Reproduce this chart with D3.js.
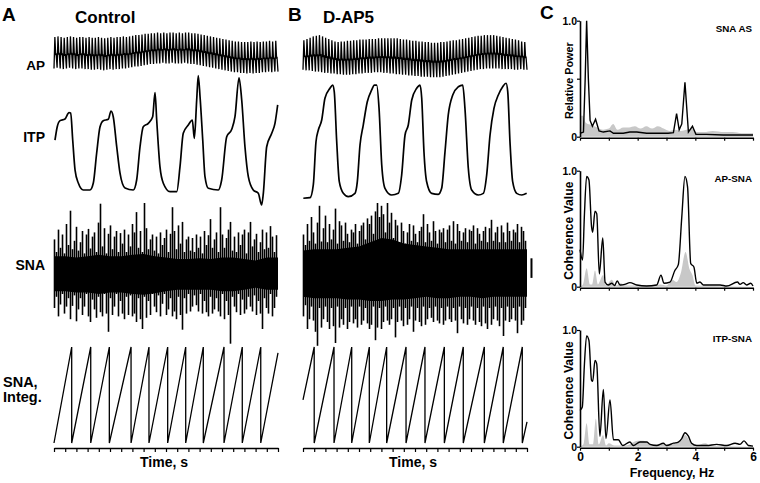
<!DOCTYPE html>
<html><head><meta charset="utf-8">
<script src="https://cdn.jsdelivr.net/npm/d3@7"></script>
<style>
body{margin:0;background:#fff}
svg{display:block}
text{font-family:"Liberation Sans",Arial,Helvetica,sans-serif;font-weight:bold;fill:#000}
</style>
</head><body>
<svg id="fig" width="760" height="483"></svg>
<script>
// ---------------- DATA ----------------
const panelTitles = ["Control", "D-AP5"];
const rowLabels = ["AP", "ITP", "SNA"];
const timeTicks = d3.range(0, 21); // seconds 0..20

// Arterial pressure, per beat (mmHg)
const apSysA = [122,123,122,121,122,123,122,121,122,122,121,122,
                121,121,122,121,120,121,122,121,122,122,123,122,
                123,124,125,125,126,127,127,128,128,129,128,129,
                128,129,129,128,129,128,129,129,128,128,127,126,
                125,124,123,122,121,120,119,118,117,116,115,115,
                114,114,114,115,114,115,114,115,115,116,115,116];
const apDiaA = [72,73,72,71,72,73,72,71,72,72,71,71,
                70,70,71,70,69,70,71,70,71,71,72,72,
                73,74,75,75,76,77,78,79,79,80,80,81,
                80,80,81,80,80,80,81,80,79,79,78,77,
                76,75,74,73,72,71,70,69,68,67,66,66,
                65,65,64,65,64,65,65,66,66,67,66,67];
const apSysB = [117,119,121,123,124,125,123,121,119,117,115,114,
                115,115,116,116,117,117,118,118,118,119,119,119,
                120,120,120,120,120,120,120,119,118,118,117,116,
                116,115,115,114,114,113,113,113,114,114,115,116,
                117,117,118,119,120,121,122,123,124,124,125,125,
                125,125,124,123,122,121,120,119,118,117,115,114];
const apDiaB = [70,69,69,68,67,67,66,65,65,64,64,63,
                63,62,62,62,63,63,64,64,65,65,65,66,
                66,66,65,65,64,64,63,63,62,62,61,61,
                60,60,59,59,59,58,58,58,58,59,60,61,
                62,63,64,65,66,67,68,69,70,71,71,72,
                72,72,72,72,71,71,71,71,70,70,71,70];

// Intrathoracic pressure [time s, value]
const itpA = [[0.09,4.64],[0.29,5.83],[0.54,6.37],[0.98,6.52],[1.34,7.08],[1.49,7.05],[1.67,4.64],[1.88,1.96],[2.17,0.8],[2.62,0.18],[3.21,0.18],[3.51,0.8],[3.81,3.48],[4.11,5.83],[4.4,6.37],[4.85,6.49],[5.09,7.23],[5.29,6.72],[5.6,4.04],[5.89,1.7],[6.34,0.36],[7.08,0.18],[7.38,1.07],[7.68,4.04],[7.97,5.83],[8.42,6.13],[8.81,6.72],[9.02,8.87],[9.17,6.43],[9.46,2.26],[9.76,0.78],[10.36,0.03],[10.96,0.03],[11.25,2.26],[11.54,5.24],[11.99,5.98],[12.35,6.43],[12.53,4.79],[12.74,8.21],[12.88,10.4],[13.04,8.51],[13.28,4.64],[13.48,1.37],[13.78,0.33],[14.67,0.18],[14.97,1.07],[15.42,4.94],[15.87,5.6],[16.16,6.72],[16.52,10.2],[16.76,8.21],[17.05,4.04],[17.35,1.37],[17.79,0.18],[18.24,-0.12],[18.54,-1.16],[18.69,-0.12],[18.99,4.04],[19.44,5.24],[19.73,6.13],[19.97,7.77]];
const itpB = [[0.03,-0.56],[0.63,-0.51],[0.92,0.63],[1.16,4.49],[1.37,5.54],[1.67,6.43],[1.96,8.37],[2.41,9.26],[2.65,9.55],[2.79,8.96],[3.01,4.49],[3.24,0.92],[3.6,-0.12],[4.04,-0.42],[4.64,-0.12],[4.85,0.92],[5.09,4.2],[5.38,5.98],[5.74,8.06],[6.13,9.11],[6.37,9.55],[6.58,9.55],[6.79,7.47],[7.03,2.41],[7.32,0.33],[7.92,-0.27],[8.51,-0.12],[8.81,1.52],[9.11,5.09],[9.4,5.98],[9.71,8.21],[10.15,9.26],[10.45,9.55],[10.6,8.37],[10.8,3.6],[11.04,0.92],[11.49,-0.12],[12.08,-0.21],[12.38,0.33],[12.68,3.6],[12.97,6.88],[13.37,8.66],[13.87,9.4],[14.26,9.55],[14.46,7.47],[14.76,2.12],[15.06,0.18],[15.65,-0.27],[16.1,-0.12],[16.4,1.52],[16.7,5.09],[17.05,7.47],[17.44,8.66],[17.83,9.4],[18.13,9.71],[18.28,8.96],[18.48,4.49],[18.72,0.92],[19.08,-0.12],[19.53,-0.27],[19.97,-0.12]];

// Sympathetic nerve activity: max / min excursion per sample (% of max)
const snaUpA = [48,30,62,36,55,28,70,40,89,34, 46,66,32,44,60,28,55,63,35,52,
                58,30,72,99,38,64,28,56,68,34, 52,60,30,57,42,62,30,55,38,70,
                58,87,36,60,30,100,64,34,48,55, 32,52,28,58,40,50,62,30,56,94,
                60,34,68,42,73,30,48,52,32,50, 30,55,36,52,28,60,40,54,77,36,
                48,58,30,94,55,36,50,62,73,32, 52,30,58,40,55,62,28,58,73,38,
                48,56,30,44,62,34,58,36,67,52, 30,54];
const snaDnA = [50,34,62,45,30,58,48,36,66,47, 32,69,52,36,60,48,30,62,70,38,
                52,64,34,56,62,30,58,84,36,60, 48,30,62,40,58,66,34,60,32,62,
                58,70,36,66,80,34,64,40,60,30, 48,56,32,62,44,30,60,52,36,62,
                55,66,34,60,81,36,58,30,55,48, 32,46,55,30,58,40,56,62,34,58,
                52,36,55,62,30,66,40,60,101,34, 48,56,30,60,38,58,52,34,48,55,
                32,60,40,58,80,36,50,58,30,62, 50,34];
const snaUpB = [55,40,70,46,80,58,42,72,96,45, 64,82,44,70,48,62,92,42,74,68,
                46,72,56,44,62,58,70,42,60,68, 72,48,78,70,82,56,88,100,80,96,
                84,58,100,72,86,50,76,68,44,72, 60,42,58,70,46,68,56,44,60,66,
                84,44,70,58,46,74,60,42,62,58, 64,44,62,68,46,74,42,70,60,46,
                58,64,44,62,60,68,42,64,56,46, 60,66,44,64,76,46,58,66,44,68,
                58,44,72,60,46,62,58,70,44,66, 60,46];
const snaDnB = [62,46,80,66,48,68,84,104,50,78, 66,48,70,80,50,76,100,48,78,66,
                74,50,80,70,48,72,66,78,48,74, 68,50,72,80,74,48,96,78,50,80,
                70,48,68,74,66,50,92,70,48,68, 76,50,74,66,48,84,68,50,70,76,
                48,74,66,50,64,70,48,68,72,50, 74,68,48,66,70,50,68,86,48,66,
                72,50,74,66,48,68,74,50,70,76, 48,72,80,50,74,66,48,68,76,50,
                90,68,48,70,66,50,68,86,48,74, 68,50];
// Dense core envelope, one value per second
const snaCoreTopA = [24,24,22,24,26,24,24,26,27,24,22,20,20,21,20,22,22,20,18,22,22];
const snaCoreBotA = [26,26,28,28,30,28,28,30,31,29,26,24,24,24,24,26,26,24,21,24,24];
const snaCoreTopB = [32,34,34,34,36,38,44,50,48,42,40,38,36,34,34,34,34,34,34,34,34];
const snaCoreBotB = [34,36,36,36,38,38,40,40,38,38,36,34,36,36,34,34,36,34,34,34,34];
const snaScaleBar = [-7, 21];

// Integrated SNA: reset times (s), start and end levels (fraction of threshold)
const integResetA = [1.58,3.28,4.94,6.88,8.48,10.15,11.76,13.33,15.18,16.81,18.46];
const integStartA = 0.0, integEndA = 0.94;
const integResetB = [1.0,2.77,4.35,5.92,7.47,9.2,10.89,12.62,14.31,16.19,17.88,19.58];
const integStartB = 0.45, integEndB = 0.22;

// Panel C spectra [frequency Hz, value]
const snaAS = [[0,0.03],[0.12,0.04],[0.18,0.5],[0.23,1.0],[0.29,0.5],[0.35,0.14],[0.43,0.09],[0.54,0.15],[0.66,0.05],[0.81,0.04],[1.04,0.05],[1.16,0.03],[1.5,0.03],[1.73,0.04],[1.97,0.04],[2.31,0.03],[2.66,0.03],[3.06,0.03],[3.24,0.035],[3.35,0.2],[3.44,0.06],[3.53,0.11],[3.64,0.47],[3.76,0.04],[3.9,0.09],[4.02,0.02],[4.39,0.02],[4.97,0.015],[5.55,0.015],[6.0,0.015]];
const snaASgrey = [[0,0.18],[0.1,0.18],[0.2,0.12],[0.4,0.1],[0.6,0.08],[0.8,0.06],[1.0,0.07],[1.15,0.11],[1.3,0.06],[1.5,0.08],[1.7,0.08],[1.9,0.09],[2.1,0.07],[2.3,0.09],[2.5,0.07],[2.7,0.09],[2.9,0.07],[3.1,0.05],[3.3,0.06],[3.5,0.05],[3.7,0.06],[3.9,0.07],[4.0,0.04],[4.3,0.04],[4.6,0.05],[5.0,0.04],[5.3,0.04],[5.6,0.03],[6.0,0.03]];
const apSna = [[0,0.32],[0.09,0.23],[0.15,0.6],[0.23,0.95],[0.31,0.92],[0.4,0.52],[0.44,0.47],[0.52,0.65],[0.58,0.63],[0.67,0.11],[0.79,0.42],[0.87,0.04],[0.98,0.015],[1.1,0.03],[1.2,0.01],[1.29,0.05],[1.39,0.015],[1.55,0.02],[1.73,0.035],[1.97,0.015],[2.31,0.006],[2.66,0.015],[2.81,0.1],[2.91,0.03],[3.12,0.04],[3.29,0.14],[3.41,0.19],[3.53,0.6],[3.64,0.95],[3.73,0.86],[3.84,0.2],[3.95,0.17],[4.05,0.03],[4.16,0.04],[4.28,0.015],[4.51,0.015],[4.86,0.015],[5.09,0.006],[5.46,0.04],[5.55,0.02],[5.66,0.035],[5.78,0.015],[5.92,0.03],[6.0,0.006]];
const apSnaGrey = [[0,0],[0.1,0.02],[0.23,0.16],[0.35,0.02],[0.42,0.02],[0.52,0.14],[0.62,0.02],[0.8,0.1],[0.9,0.01],[1.1,0.06],[1.25,0.01],[1.4,0.03],[1.6,0.01],[2.0,0.01],[2.8,0.02],[3.0,0.01],[3.2,0.06],[3.35,0.04],[3.5,0.12],[3.66,0.3],[3.8,0.15],[3.9,0.1],[4.0,0.01],[6.0,0]];
const itpSna = [[0,0.31],[0.08,0.34],[0.15,0.69],[0.23,0.95],[0.31,0.91],[0.4,0.57],[0.44,0.56],[0.52,0.74],[0.58,0.71],[0.69,0.09],[0.81,0.49],[0.9,0.07],[1.04,0.4],[1.16,0.06],[1.33,0.06],[1.48,0.01],[1.73,0.04],[1.85,0.01],[2.08,0.04],[2.31,0.04],[2.43,0.02],[2.66,0.01],[2.89,0.03],[3.0,0.01],[3.24,0.03],[3.41,0.04],[3.53,0.07],[3.64,0.12],[3.76,0.09],[3.87,0.03],[4.05,0.01],[4.39,0.01],[4.74,0.02],[5.09,0.01],[5.38,0.03],[5.55,0.02],[5.69,0.05],[5.84,0.01],[6.0,0.005]];
const itpSnaGrey = [[0,0],[0.12,0.02],[0.23,0.2],[0.33,0.02],[0.45,0.02],[0.55,0.24],[0.65,0.02],[0.8,0.1],[0.9,0.01],[1.0,0.03],[1.2,0.01],[1.6,0.01],[2.0,0.05],[2.2,0.05],[2.4,0.02],[3.0,0.02],[3.5,0.05],[3.65,0.1],[3.8,0.05],[4.0,0.01],[4.35,0.03],[4.5,0.01],[6.0,0]];
const freqTicks = [0,1,2,3,4,5,6];
const freqLabels = ["0","","2","","4","","6"];

// ---------------- DRAWING ----------------
const svg = d3.select("#fig");
const FONT = '"Liberation Sans",Arial,Helvetica,sans-serif';

const apY = d3.scaleLinear().domain([60,130]).range([76,32]);
const itpY = d3.scaleLinear().domain([0,10]).range([192,80]);
const snaY = d3.scaleLinear().domain([-100,100]).range([343,203]);
const integY = d3.scaleLinear().domain([0,1]).range([443,347]);

const panels = [
  {x0:54, x1:278, title:panelTitles[0], sys:apSysA, dia:apDiaA, itp:itpA,
   up:snaUpA, dn:snaDnA, cTop:snaCoreTopA, cBot:snaCoreBotA,
   resets:integResetA, iStart:integStartA, iEnd:integEndA},
  {x0:303, x1:527, title:panelTitles[1], sys:apSysB, dia:apDiaB, itp:itpB,
   up:snaUpB, dn:snaDnB, cTop:snaCoreTopB, cBot:snaCoreBotB,
   resets:integResetB, iStart:integStartB, iEnd:integEndB}
];

panels.forEach((p, k) => {
  const x = d3.scaleLinear().domain([0,20]).range([p.x0, p.x1]);
  const g = svg.append("g");

  // AP
  const n = p.sys.length, T = 20 / n, apPts = [];
  for (let i = 0; i < n; i++) {
    const t0 = i * T, pp = p.sys[i] - p.dia[i];
    apPts.push([t0, p.dia[i]]);
    apPts.push([t0 + 0.28 * T, p.sys[i]]);
    apPts.push([t0 + 0.55 * T, p.dia[i] + 0.42 * pp]);
    apPts.push([t0 + 0.68 * T, p.dia[i] + 0.48 * pp]);
  }
  apPts.push([20, p.dia[n - 1]]);
  g.append("path").attr("d", d3.line().x(d => x(d[0])).y(d => apY(d[1]))(apPts))
    .attr("fill", "none").attr("stroke", "#000").attr("stroke-width", 1.3);

  // ITP
  g.append("path").attr("d", d3.line().curve(d3.curveMonotoneX).x(d => x(d[0])).y(d => itpY(d[1]))(p.itp))
    .attr("fill", "none").attr("stroke", "#000").attr("stroke-width", 1.7);

  // SNA core
  g.append("path").attr("d", d3.area().x((d, i) => x(i)).y0((d, i) => snaY(-p.cBot[i])).y1(d => snaY(d))(p.cTop))
    .attr("fill", "#000");
  // SNA spikes: min/max vertical strokes per sample
  const m = p.up.length, dt = 20 / m;
  g.append("g").selectAll("line").data(p.up).join("line")
    .attr("x1", (d, i) => x(i * dt) + 0.5).attr("x2", (d, i) => x(i * dt) + 0.5)
    .attr("y1", d => snaY(d)).attr("y2", (d, i) => snaY(-p.dn[i]))
    .attr("stroke", "#000").attr("stroke-width", 1.6);

  // integrated SNA
  const iPts = [[0, p.iStart]];
  p.resets.forEach(r => { iPts.push([r, 1]); iPts.push([r, 0]); });
  iPts.push([20, p.iEnd]);
  g.append("path").attr("d", d3.line().x(d => x(d[0])).y(d => integY(d[1]))(iPts))
    .attr("fill", "none").attr("stroke", "#000").attr("stroke-width", 1.3);

  // time axis
  const ax = g.append("g").attr("transform", "translate(0,448)")
    .call(d3.axisBottom(x).tickValues(timeTicks).tickSize(4).tickSizeOuter(0).tickFormat(""));
  ax.select(".domain").attr("stroke-width", 1.6);
  ax.selectAll(".tick line").attr("stroke-width", 1.2);
  g.append("text").attr("x", (p.x0 + p.x1) / 2 - 2).attr("y", 467).attr("text-anchor", "middle")
    .attr("font-size", 14).text("Time, s");

  // titles
  g.append("text").attr("x", k === 0 ? 75 : 323).attr("y", 23).attr("font-size", 17).text(p.title);

  if (k === 1) {
    g.append("line").attr("x1", x(20.4)).attr("x2", x(20.4))
      .attr("y1", snaY(snaScaleBar[0])).attr("y2", snaY(snaScaleBar[1]))
      .attr("stroke", "#000").attr("stroke-width", 2);
  }
});

// panel letters
[["A", 2, 21], ["B", 288, 21], ["C", 540, 19]].forEach(([t, x, y]) =>
  svg.append("text").attr("x", x).attr("y", y).attr("font-size", 19).text(t));

// row labels
svg.append("text").attr("x", 45).attr("y", 70).attr("text-anchor", "end").attr("font-size", 13.5).text(rowLabels[0]);
svg.append("text").attr("x", 45).attr("y", 142).attr("text-anchor", "end").attr("font-size", 14).text(rowLabels[1]);
svg.append("text").attr("x", 45).attr("y", 270).attr("text-anchor", "end").attr("font-size", 14).text(rowLabels[2]);
svg.append("text").attr("x", 3).attr("y", 387).attr("font-size", 14.5).text("SNA,");
svg.append("text").attr("x", 3).attr("y", 402).attr("font-size", 14.5).text("Integ.");

// ---------------- Panel C ----------------
const fx = d3.scaleLinear().domain([0,6]).range([580,753]);
const cPanels = [
  {y0:136.7, y1:20.7, line:snaAS, grey:snaASgrey, title:"SNA AS", ylab:"Relative Power", ylabSize:10.8, curve:d3.curveLinear, labels:false},
  {y0:286.7, y1:170.7, line:apSna, grey:apSnaGrey, title:"AP-SNA", ylab:"Coherence Value", ylabSize:12.2, curve:d3.curveMonotoneX, labels:false},
  {y0:446.7, y1:330, line:itpSna, grey:itpSnaGrey, title:"ITP-SNA", ylab:"Coherence Value", ylabSize:12.2, curve:d3.curveMonotoneX, labels:true}
];
cPanels.forEach((c, k) => {
  const y = d3.scaleLinear().domain([0,1]).range([c.y0, c.y1]);
  const g = svg.append("g");
  g.append("path").attr("d", d3.area().curve(d3.curveMonotoneX).x(d => fx(d[0])).y0(y(0)).y1(d => y(d[1]))(c.grey))
    .attr("fill", "#c8c8c8");
  g.append("path").attr("d", d3.line().curve(c.curve).x(d => fx(d[0])).y(d => y(d[1]))(c.line))
    .attr("fill", "none").attr("stroke", "#000").attr("stroke-width", 1.4);

  const yax = g.append("g").attr("transform", "translate(580,0)")
    .call(d3.axisLeft(y).tickValues(k === 0 ? [0, 0.5, 1] : [0, 1]).tickSize(3).tickSizeOuter(0)
      .tickFormat(d => d === 0 ? "0" : d === 1 ? "1.0" : ""));
  const xax = g.append("g").attr("transform", `translate(0,${c.y0 + 1})`)
    .call(d3.axisBottom(fx).tickValues(freqTicks).tickSize(3).tickSizeOuter(0)
      .tickFormat((d, i) => c.labels ? freqLabels[i] : ""));
  [yax, xax].forEach(a => {
    a.select(".domain").attr("stroke-width", 1.6);
    a.selectAll(".tick line").attr("stroke-width", 1.2);
    a.selectAll("text").attr("font-family", FONT).attr("font-weight", "bold").attr("fill", "#000");
  });
  yax.selectAll("text").attr("font-size", 10.5).attr("x", -3);
  xax.selectAll("text").attr("font-size", 12).attr("y", 5);

  g.append("text").attr("x", 752).attr("y", c.y1 + 11.5).attr("text-anchor", "end").attr("font-size", 9.8).text(c.title);
  g.append("text").attr("transform", `translate(573,${(c.y0 + c.y1) / 2 + 2}) rotate(-90)`)
    .attr("text-anchor", "middle").attr("font-size", c.ylabSize).text(c.ylab);
});
svg.append("text").attr("x", 672).attr("y", 477).attr("text-anchor", "middle").attr("font-size", 12.5).text("Frequency, Hz");
</script>
</body></html>
